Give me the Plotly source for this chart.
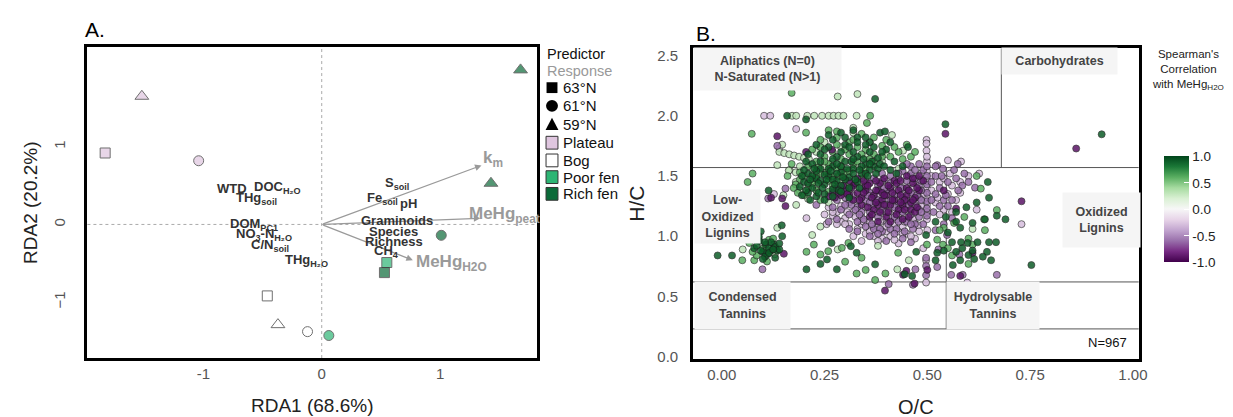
import plotly.graph_objects as go

FONT = "Liberation Sans, Arial, sans-serif"

# ---------------- Panel A data (RDA) ----------------
site_habitat = ["Plateau", "Plateau", "Plateau", "Bog", "Bog", "Bog",
                "Poor fen", "Poor fen", "Rich fen", "Rich fen", "Rich fen", "Rich fen"]
site_lat = ["63°N", "61°N", "59°N", "63°N", "61°N", "59°N",
            "63°N", "61°N", "63°N", "61°N", "59°N", "59°N"]
site_rda1 = [-1.83, -1.04, -1.52, -0.46, -0.12, -0.37, 0.55, 0.06, 0.53, 1.01, 1.43, 1.68]
site_rda2 = [0.92, 0.82, 1.65, -0.92, -1.38, -1.29, -0.49, -1.43, -0.62, -0.14, 0.53, 1.99]

habitat_names = ["Plateau", "Bog", "Poor fen", "Rich fen"]
habitat_colors = ["#dfc6df", "#ffffff", "#2db574", "#0b6a39"]
lat_names = ["63°N", "61°N", "59°N"]
lat_symbols = ["square", "circle", "triangle-up"]

response_labels = ["k<sub>m</sub>", "MeHg<sub>peat</sub>", "MeHg<sub>H2O</sub>"]
response_x = [1.35, 1.34, 0.77]
response_y = [0.76, 0.08, -0.46]
response_label_x = [1.35, 1.23, 0.78]
response_label_y = [0.84, 0.12, -0.50]

predictor_labels = ["S<sub>soil</sub>", "Fe<sub>soil</sub>", "pH", "Graminoids", "Species",
                    "Richness", "CH<sub>4</sub>", "WTD", "DOC<sub>H₂O</sub>", "THg<sub>soil</sub>",
                    "DOM<sub>PC1</sub>", "NO<sub>3</sub>-N<sub>H₂O</sub>", "C/N<sub>soil</sub>",
                    "THg<sub>H₂O</sub>"]
predictor_x = [0.64, 0.51, 0.73, 0.64, 0.61, 0.61, 0.55, -0.76, -0.37, -0.55, -0.57, -0.49, -0.44, -0.13]
predictor_y = [0.53, 0.33, 0.27, 0.05, -0.09, -0.22, -0.35, 0.46, 0.47, 0.33, 0.0, -0.13, -0.27, -0.47]

# ---------------- Panel B data (van Krevelen) ----------------
# (O/C, H/C) pairs, grouped by colour class; rho = Spearman correlation
light_purple_rho = -0.3
light_purple_pts = [
    (0.103, 2.0), (0.118, 2.0), (0.181, 1.89), (0.498, 1.80), (0.498, 1.77), (0.498, 1.71),
    (0.55, 1.63), (0.582, 1.62), (0.626, 1.52), (0.127, 1.35), (0.14, 1.73), (0.206, 1.15),
    (0.373, 1.31), (0.385, 1.285), (0.397, 1.26), (0.409, 1.235), (0.421, 1.21), (0.433, 1.185),
    (0.445, 1.16), (0.457, 1.135), (0.469, 1.11), (0.478, 1.09),
    (0.499, 1.14), (0.499, 1.20), (0.499, 1.26), (0.499, 1.32), (0.499, 1.40), (0.499, 1.46),
    (0.499, 1.54), (0.499, 1.62), (0.499, 1.66),
    (0.30, 1.15), (0.31, 1.10), (0.33, 1.06), (0.35, 1.02), (0.37, 1.00), (0.39, 0.98),
    (0.41, 1.00), (0.43, 1.04), (0.45, 1.02), (0.47, 0.98), (0.38, 1.08), (0.40, 1.12),
    (0.28, 1.20), (0.27, 1.17), (0.29, 1.25), (0.32, 1.20), (0.34, 1.16), (0.36, 1.12),
    (0.42, 1.10), (0.44, 1.08), (0.497, 0.615), (0.497, 0.80), (0.597, 0.615), (0.55, 1.35),
    (0.56, 1.42), (0.57, 1.30), (0.54, 1.22), (0.53, 1.45), (0.56, 1.20), (0.58, 1.36),
    (0.729, 1.10), (0.46, 1.44), (0.44, 1.36), (0.42, 1.42), (0.40, 1.30), (0.38, 1.20),
    (0.48, 1.28), (0.47, 1.36), (0.35, 1.24), (0.33, 1.30), (0.45, 1.24), (0.43, 1.30),
    (0.455, 1.50), (0.485, 1.52), (0.39, 1.14), (0.41, 1.18), (0.34, 1.10), (0.52, 1.28),
    (0.51, 1.38), (0.53, 1.18), (0.60, 1.50), (0.62, 1.22), (0.29, 1.12), (0.26, 1.24),
    (0.43, 0.94), (0.38, 0.96), (0.49, 0.90), (0.40, 1.04),
    (0.305, 1.20), (0.325, 1.16), (0.345, 1.12), (0.365, 1.08), (0.385, 1.12), (0.405, 1.16),
    (0.425, 1.14), (0.445, 1.12), (0.465, 1.14), (0.36, 1.04), (0.40, 1.08), (0.44, 1.02),
    (0.30, 1.10), (0.28, 1.10), (0.27, 1.20), (0.25, 1.18), (0.255, 1.10), (0.32, 1.00),
    (0.34, 0.96), (0.42, 0.97), (0.46, 1.00), (0.48, 1.04), (0.385, 1.34), (0.425, 1.38),
    (0.465, 1.40), (0.405, 1.46), (0.355, 1.38), (0.485, 1.25), (0.49, 1.35), (0.475, 1.46),
    (0.51, 1.50), (0.525, 1.32), (0.54, 1.48), (0.555, 1.52), (0.58, 1.45), (0.50, 1.05),
]
light_green_rho = 0.3
light_green_pts = [
    (0.171, 2.0), (0.181, 2.0), (0.208, 2.0), (0.225, 2.0), (0.244, 2.0), (0.26, 2.0),
    (0.272, 2.0), (0.284, 2.0), (0.296, 2.0), (0.328, 2.0), (0.282, 2.16), (0.33, 2.18),
    (0.32, 1.90), (0.32, 1.86), (0.414, 1.84), (0.441, 1.71), (0.147, 1.76), (0.14, 1.70),
    (0.152, 1.69), (0.164, 1.68), (0.176, 1.67), (0.188, 1.66), (0.20, 1.65), (0.212, 1.64),
    (0.165, 1.55), (0.18, 1.53), (0.19, 1.58), (0.25, 1.78), (0.29, 1.74), (0.35, 1.66),
    (0.39, 1.62), (0.43, 1.56), (0.135, 1.59), (0.163, 1.545), (0.051, 0.89), (0.129, 0.85),
    (0.135, 1.07), (0.181, 1.26), (0.15, 1.34), (0.22, 1.01), (0.24, 1.08), (0.282, 0.89),
    (0.427, 0.725), (0.23, 1.70), (0.27, 1.62), (0.33, 1.58), (0.26, 1.28), (0.21, 1.31),
    (0.19, 1.38), (0.36, 1.78), (0.40, 1.68), (0.18, 1.45), (0.22, 1.55), (0.61, 1.06),
    (0.455, 0.80), (0.38, 0.92), (0.25, 1.58), (0.29, 1.46), (0.31, 1.36), (0.23, 1.42),
]
purple_rho = -0.6
purple_pts = [
    (0.34, 1.40), (0.36, 1.36), (0.38, 1.42), (0.40, 1.38), (0.42, 1.34), (0.44, 1.40),
    (0.46, 1.36), (0.48, 1.42), (0.35, 1.30), (0.37, 1.26), (0.39, 1.22), (0.41, 1.30),
    (0.43, 1.26), (0.45, 1.30), (0.47, 1.26), (0.36, 1.20), (0.38, 1.16), (0.40, 1.20),
    (0.42, 1.16), (0.44, 1.20), (0.46, 1.18), (0.48, 1.22), (0.33, 1.24), (0.31, 1.28),
    (0.30, 1.32), (0.32, 1.34), (0.41, 1.44), (0.45, 1.46), (0.47, 1.48), (0.43, 1.48),
    (0.39, 1.46), (0.37, 1.48), (0.35, 1.46), (0.48, 1.32), (0.48, 1.16), (0.47, 1.10),
    (0.45, 1.12), (0.43, 1.12), (0.41, 1.06), (0.39, 1.04), (0.37, 1.06), (0.35, 1.08),
    (0.33, 1.12), (0.31, 1.18), (0.29, 1.22), (0.46, 1.52), (0.44, 1.54), (0.49, 1.55),
    (0.48, 1.60), (0.46, 1.58), (0.36, 1.00), (0.40, 0.96), (0.44, 0.98), (0.46, 0.95),
    (0.28, 1.30), (0.27, 1.24), (0.524, 1.59), (0.538, 1.56), (0.574, 1.60), (0.616, 1.403),
    (0.52, 1.50), (0.53, 1.40), (0.54, 1.30), (0.55, 1.25), (0.53, 1.25), (0.52, 1.35),
    (0.55, 1.45), (0.57, 1.48), (0.585, 1.42), (0.60, 1.45), (0.56, 1.15), (0.548, 1.01),
    (0.52, 1.05), (0.54, 1.10), (0.406, 0.602), (0.465, 0.596), (0.471, 0.725), (0.497, 0.676),
    (0.497, 0.753), (0.497, 0.82), (0.524, 0.744), (0.527, 0.89), (0.558, 0.679), (0.578, 0.848),
    (0.586, 0.679), (0.669, 0.679), (0.099, 0.725), (0.113, 1.313), (0.155, 1.395), (0.135, 1.75),
    (0.499, 1.17), (0.499, 1.23), (0.499, 1.29), (0.499, 1.36), (0.499, 1.43), (0.499, 1.50),
    (0.499, 1.58), (0.485, 1.46), (0.485, 1.38), (0.485, 1.30), (0.485, 1.20), (0.23, 1.26),
    (0.38, 1.30), (0.42, 1.24), (0.44, 1.32), (0.40, 1.26), (0.36, 1.28), (0.34, 1.20),
    (0.325, 1.22), (0.345, 1.14), (0.365, 1.10), (0.385, 1.06), (0.405, 1.10), (0.425, 1.06),
    (0.445, 1.04), (0.465, 1.06), (0.315, 1.26), (0.30, 1.26), (0.335, 1.18), (0.355, 1.34),
    (0.395, 1.40), (0.435, 1.40), (0.475, 1.34), (0.455, 1.26), (0.41, 1.50), (0.43, 1.52),
    (0.39, 1.52), (0.47, 1.55), (0.45, 1.60), (0.51, 1.45), (0.51, 1.30), (0.515, 1.20),
    (0.52, 1.58), (0.535, 1.50), (0.545, 1.34), (0.56, 1.30), (0.575, 1.38), (0.59, 1.52),
    (0.565, 1.55), (0.49, 1.10), (0.46, 1.10), (0.42, 1.02), (0.38, 1.02), (0.33, 1.04),
    (0.31, 1.06), (0.28, 1.14), (0.26, 1.12),
]
med_green_rho = 0.6
med_green_pts = [
    (0.17, 2.19), (0.361, 2.0), (0.073, 1.85), (0.205, 1.86), (0.26, 1.88), (0.28, 1.87),
    (0.353, 1.94), (0.063, 1.45), (0.075, 1.52), (0.05, 0.80), (0.067, 0.944), (0.079, 0.80),
    (0.101, 0.90), (0.115, 0.97), (0.11, 0.79), (0.09, 0.985), (0.206, 0.87), (0.224, 0.93),
    (0.24, 0.848), (0.259, 0.876), (0.292, 0.903), (0.30, 0.788), (0.308, 0.944), (0.34, 0.821),
    (0.35, 0.72), (0.328, 0.69), (0.373, 0.636), (0.398, 0.69), (0.429, 0.862), (0.499, 0.93),
    (0.524, 0.971), (0.538, 0.93), (0.61, 0.93), (0.669, 1.217), (0.63, 1.395), (0.638, 1.14),
    (0.62, 1.50), (0.20, 1.50), (0.22, 1.44), (0.24, 1.52), (0.26, 1.46), (0.28, 1.56),
    (0.30, 1.53), (0.32, 1.60), (0.21, 1.58), (0.23, 1.62), (0.25, 1.66), (0.27, 1.70),
    (0.29, 1.64), (0.31, 1.68), (0.33, 1.74), (0.35, 1.72), (0.37, 1.68), (0.39, 1.75),
    (0.19, 1.47), (0.23, 1.38), (0.27, 1.42), (0.31, 1.44), (0.34, 1.48), (0.36, 1.64),
    (0.22, 1.72), (0.24, 1.80), (0.28, 1.82), (0.31, 1.78), (0.34, 1.85), (0.41, 1.66),
    (0.43, 1.70), (0.46, 1.66), (0.20, 1.34), (0.24, 1.30), (0.26, 1.37), (0.18, 1.43),
    (0.54, 1.07), (0.565, 1.11), (0.59, 1.16), (0.55, 0.90), (0.60, 0.98), (0.64, 1.05),
    (0.26, 1.60), (0.30, 1.40), (0.22, 1.48), (0.255, 1.53), (0.285, 1.50), (0.235, 1.57),
    (0.19, 1.53), (0.21, 1.40), (0.23, 1.50), (0.25, 1.62), (0.27, 1.50), (0.29, 1.58),
    (0.31, 1.54), (0.33, 1.62), (0.35, 1.56), (0.37, 1.62), (0.39, 1.66), (0.42, 1.74),
    (0.44, 1.64), (0.45, 1.76), (0.47, 1.70), (0.24, 1.74), (0.28, 1.76), (0.32, 1.80),
    (0.37, 1.82), (0.40, 1.80), (0.17, 1.60), (0.16, 1.50), (0.175, 1.40), (0.185, 1.36),
    (0.30, 1.72), (0.34, 1.68), (0.085, 0.84), (0.125, 0.98), (0.075, 0.87), (0.56, 0.84),
    (0.60, 0.77), (0.53, 1.05),
]
dark_purple_rho = -0.9
dark_purple_pts = [
    (0.135, 1.83), (0.205, 1.70), (0.268, 1.717), (0.544, 1.85), (0.862, 1.728), (0.729, 1.29),
    (0.397, 0.548), (0.441, 0.679), (0.449, 0.712), (0.469, 0.607), (0.151, 0.854), (0.147, 1.313),
    (0.35, 1.38), (0.37, 1.34), (0.39, 1.30), (0.41, 1.26), (0.43, 1.22), (0.36, 1.44),
    (0.38, 1.38), (0.40, 1.34), (0.42, 1.30), (0.44, 1.26), (0.46, 1.22), (0.33, 1.36),
    (0.34, 1.32), (0.32, 1.42), (0.30, 1.38), (0.31, 1.46), (0.29, 1.34), (0.33, 1.48),
    (0.39, 1.36), (0.45, 1.34), (0.47, 1.32), (0.43, 1.38), (0.41, 1.40), (0.37, 1.22),
    (0.40, 1.16), (0.44, 1.14), (0.38, 1.12), (0.36, 1.16), (0.34, 1.26), (0.32, 1.30),
    (0.47, 1.20), (0.45, 1.40), (0.48, 1.38), (0.49, 1.46), (0.28, 1.40), (0.27, 1.36),
    (0.26, 1.33), (0.42, 1.46), (0.46, 1.28), (0.38, 1.26), (0.35, 1.42), (0.31, 1.34),
    (0.45, 1.50), (0.41, 1.12), (0.54, 1.38), (0.57, 1.23), (0.61, 0.86), (0.50, 0.72),
    (0.155, 1.25), (0.12, 1.32), (0.58, 0.67),
    (0.335, 1.30), (0.345, 1.36), (0.355, 1.42), (0.365, 1.32), (0.375, 1.38), (0.385, 1.44),
    (0.395, 1.34), (0.405, 1.42), (0.415, 1.36), (0.425, 1.44), (0.435, 1.34), (0.445, 1.30),
    (0.455, 1.38), (0.465, 1.44), (0.475, 1.40), (0.355, 1.24), (0.365, 1.18), (0.375, 1.28),
    (0.385, 1.20), (0.395, 1.26), (0.405, 1.20), (0.415, 1.30), (0.425, 1.18), (0.435, 1.28),
    (0.445, 1.22), (0.455, 1.16), (0.465, 1.30), (0.475, 1.24), (0.315, 1.40), (0.325, 1.44),
    (0.305, 1.35), (0.295, 1.42), (0.285, 1.36), (0.275, 1.32), (0.345, 1.46), (0.375, 1.46),
    (0.395, 1.48), (0.435, 1.46), (0.465, 1.48), (0.48, 1.50),
]
dark_green_rho = 0.9
dark_green_pts = [
    (-0.01, 0.84), (0.025, 0.84), (0.079, 0.90), (0.095, 1.04), (0.091, 0.96), (0.107, 0.93),
    (0.111, 0.85), (0.119, 0.88), (0.127, 0.93), (0.135, 0.88), (0.10, 0.87), (0.115, 0.90),
    (0.12, 0.95), (0.13, 0.91), (0.14, 0.89), (0.105, 0.83), (0.147, 1.00), (0.114, 1.38),
    (0.146, 1.09), (0.159, 2.0), (0.205, 1.97), (0.373, 2.14), (0.544, 1.93), (0.385, 1.86),
    (0.397, 1.87), (0.453, 1.74), (0.924, 1.846), (0.753, 0.76), (0.69, 1.14), (0.669, 1.17),
    (0.647, 1.45), (0.57, 0.87), (0.582, 0.95), (0.598, 0.944), (0.622, 0.95), (0.60, 0.843),
    (0.614, 0.81), (0.65, 0.95), (0.645, 0.87), (0.667, 0.95), (0.524, 0.862), (0.562, 0.76),
    (0.497, 1.01), (0.473, 0.87), (0.52, 1.12), (0.545, 1.16), (0.57, 1.20), (0.595, 1.24),
    (0.62, 1.28), (0.65, 1.32), (0.55, 1.03), (0.58, 1.07), (0.61, 1.11), (0.64, 1.14),
    (0.206, 0.725), (0.24, 0.77), (0.256, 0.807), (0.267, 0.944), (0.28, 0.725), (0.314, 0.917),
    (0.328, 0.862), (0.373, 0.766), (0.445, 0.685), (0.463, 0.67), (0.20, 1.45), (0.21, 1.52),
    (0.22, 1.40), (0.23, 1.48), (0.24, 1.56), (0.25, 1.43), (0.26, 1.50), (0.27, 1.58),
    (0.28, 1.46), (0.29, 1.53), (0.30, 1.62), (0.31, 1.49), (0.32, 1.56), (0.33, 1.66),
    (0.34, 1.52), (0.35, 1.60), (0.36, 1.70), (0.37, 1.58), (0.22, 1.60), (0.24, 1.68),
    (0.26, 1.74), (0.28, 1.66), (0.30, 1.76), (0.32, 1.70), (0.25, 1.35), (0.27, 1.39),
    (0.29, 1.42), (0.31, 1.40), (0.33, 1.45), (0.21, 1.36), (0.23, 1.33), (0.19, 1.41),
    (0.20, 1.55), (0.22, 1.50), (0.24, 1.46), (0.26, 1.56), (0.28, 1.52), (0.30, 1.47),
    (0.32, 1.52), (0.34, 1.58), (0.36, 1.55), (0.38, 1.65), (0.40, 1.72), (0.42, 1.62),
    (0.44, 1.58), (0.27, 1.80), (0.29, 1.86), (0.33, 1.82), (0.36, 1.78), (0.21, 1.44),
    (0.25, 1.51), (0.29, 1.58), (0.35, 1.52), (0.38, 1.56), (0.23, 1.54), (0.27, 1.47),
    (0.195, 1.50), (0.205, 1.38), (0.215, 1.47), (0.225, 1.56), (0.235, 1.44), (0.245, 1.40),
    (0.255, 1.47), (0.265, 1.54), (0.275, 1.43), (0.285, 1.38), (0.295, 1.49), (0.305, 1.56),
    (0.315, 1.62), (0.325, 1.47), (0.335, 1.55), (0.345, 1.64), (0.355, 1.50), (0.365, 1.62),
    (0.375, 1.52), (0.385, 1.60), (0.395, 1.58), (0.41, 1.55), (0.425, 1.52), (0.21, 1.68),
    (0.23, 1.76), (0.25, 1.72), (0.27, 1.64), (0.29, 1.70), (0.31, 1.74), (0.33, 1.78),
    (0.35, 1.76), (0.37, 1.74), (0.39, 1.70), (0.41, 1.78), (0.26, 1.84), (0.30, 1.82),
    (0.32, 1.88), (0.35, 1.82), (0.205, 1.62), (0.24, 1.62), (0.28, 1.60), (0.32, 1.64),
    (0.36, 1.60), (0.195, 1.34), (0.215, 1.30), (0.235, 1.36), (0.27, 1.33), (0.29, 1.37),
    (0.31, 1.32), (0.335, 1.40), (0.25, 1.30),
    (0.085, 0.92), (0.095, 0.88), (0.105, 0.95), (0.115, 0.86), (0.125, 0.89), (0.10, 0.81),
    (0.13, 0.82), (0.14, 0.94), (0.09, 1.0), (0.56, 0.95), (0.585, 0.90), (0.61, 0.88),
    (0.635, 0.83), (0.655, 0.80), (0.54, 0.88), (0.58, 0.80), (0.52, 0.80), (0.57, 1.12),
]

region_labels = ["Aliphatics (N=0)<br>N-Saturated (N>1)", "Carbohydrates", "Low-<br>Oxidized<br>Lignins",
                 "Oxidized<br>Lignins", "Condensed<br>Tannins", "Hydrolysable<br>Tannins"]
region_x = [0.112, 0.822, 0.013, 0.924, 0.0495, 0.659]
region_y = [2.389, 2.455, 1.164, 1.135, 0.426, 0.426]
region_w = [147, 115, 65, 77, 95, 92]
region_h = [42, 26, 53, 54, 47, 47]
boundary_hc = [1.57, 0.62, 0.23]
boundary_oc_upper = 0.68
boundary_oc_lower = 0.546
n_formulas = 967

# ---------------- Layout geometry ----------------
W, H = 1233, 417
def px(x):
    return x / W
def py(y):
    return 1 - y / H

fig = go.Figure()

# Panel A site points
for hname, hcol in zip(habitat_names, habitat_colors):
    xs = [x for x, h in zip(site_rda1, site_habitat) if h == hname]
    ys = [y for y, h in zip(site_rda2, site_habitat) if h == hname]
    syms = [lat_symbols[lat_names.index(l)] for l, h in zip(site_lat, site_habitat) if h == hname]
    sizes = [12 if s == "triangle-up" else 10 for s in syms]
    fig.add_trace(go.Scatter(x=xs, y=ys, mode="markers", xaxis="x", yaxis="y", name=hname,
                             marker=dict(symbol=syms, size=sizes, color=hcol,
                                         line=dict(color="#333333", width=1)),
                             showlegend=False, hoverinfo="skip"))

# Panel B points
groups = [(light_purple_pts, light_purple_rho), (light_green_pts, light_green_rho),
          (purple_pts, purple_rho), (med_green_pts, med_green_rho),
          (dark_purple_pts, dark_purple_rho), (dark_green_pts, dark_green_rho)]
for pts, rho in groups:
    fig.add_trace(go.Scatter(
        x=[p[0] for p in pts], y=[p[1] for p in pts], mode="markers", xaxis="x2", yaxis="y2",
        marker=dict(size=7, color=[rho] * len(pts), coloraxis="coloraxis", opacity=0.85,
                    line=dict(color="#1a1a1a", width=0.7)),
        showlegend=False, hoverinfo="skip"))

annotations = []
shapes = []

# ---- custom legend for panel A (Predictor / Response key) ----
leg_x_sym = 548
leg_x_txt = 557
leg_rows_y = [80, 98.5, 117, 136, 154, 171, 188]
leg_items = lat_names + habitat_names
annotations.append(dict(xref="paper", yref="paper", x=px(541), y=py(46), text="Predictor", showarrow=False,
                        xanchor="left", yanchor="middle", font=dict(family=FONT, size=14.5, color="#111111")))
annotations.append(dict(xref="paper", yref="paper", x=px(541), y=py(63), text="Response", showarrow=False,
                        xanchor="left", yanchor="middle", font=dict(family=FONT, size=14.5, color="#999999")))
for i, (item, ry) in enumerate(zip(leg_items, leg_rows_y)):
    annotations.append(dict(xref="paper", yref="paper", x=px(leg_x_txt), y=py(ry), text=item, showarrow=False,
                            xanchor="left", yanchor="middle", font=dict(family=FONT, size=15, color="#111111")))
    if i < 3:
        sym = lat_symbols[i]
        if sym == "square":
            shapes.append(dict(type="rect", xref="paper", yref="paper", x0=px(leg_x_sym - 5.5), x1=px(leg_x_sym + 5.5),
                               y0=py(ry + 5.5), y1=py(ry - 5.5), fillcolor="black", line=dict(width=0)))
        elif sym == "circle":
            shapes.append(dict(type="circle", xref="paper", yref="paper", x0=px(leg_x_sym - 6), x1=px(leg_x_sym + 6),
                               y0=py(ry + 6), y1=py(ry - 6), fillcolor="black", line=dict(width=0)))
        else:
            path = "M %f %f L %f %f L %f %f Z" % (px(leg_x_sym - 6.5), py(ry + 6), px(leg_x_sym + 6.5), py(ry + 6),
                                                 px(leg_x_sym), py(ry - 6.5))
            shapes.append(dict(type="path", xref="paper", yref="paper", path=path, fillcolor="black",
                               line=dict(width=0)))
    else:
        col = habitat_colors[i - 3]
        shapes.append(dict(type="rect", xref="paper", yref="paper", x0=px(leg_x_sym - 6), x1=px(leg_x_sym + 6),
                           y0=py(ry + 6.5), y1=py(ry - 6.5), fillcolor=col, line=dict(color="#333333", width=1)))

# Panel A zero lines
shapes.append(dict(type="line", xref="x", yref="y domain", x0=0, x1=0, y0=0, y1=1,
                   line=dict(color="#aaaaaa", width=1, dash="dot"), layer="below"))
shapes.append(dict(type="line", xref="x domain", yref="y", x0=0, x1=1, y0=0, y1=0,
                   line=dict(color="#aaaaaa", width=1, dash="dot"), layer="below"))

# Response arrows
for lab, x, y, lx, ly in zip(response_labels, response_x, response_y, response_label_x, response_label_y):
    annotations.append(dict(xref="x", yref="y", x=x, y=y, ax=0, ay=0, axref="x", ayref="y",
                            showarrow=True, arrowhead=2, arrowsize=1, arrowwidth=1.3,
                            arrowcolor="#9a9a9a", text=""))
    annotations.append(dict(xref="x", yref="y", x=lx, y=ly, text="<b>" + lab + "</b>",
                            showarrow=False, xanchor="left", yanchor="middle",
                            font=dict(family=FONT, size=17, color="#9a9a9a")))
for lab, x, y in zip(predictor_labels, predictor_x, predictor_y):
    annotations.append(dict(xref="x", yref="y", x=x, y=y, text="<b>" + lab + "</b>",
                            showarrow=False, xanchor="center", yanchor="middle",
                            font=dict(family=FONT, size=13, color="#333333")))

# Panel B boundaries
for hc in boundary_hc:
    shapes.append(dict(type="line", xref="x2 domain", yref="y2", x0=0, x1=1, y0=hc, y1=hc,
                       line=dict(color="#555555", width=1), layer="below"))
shapes.append(dict(type="line", xref="x2", yref="y2 domain", x0=boundary_oc_upper, x1=boundary_oc_upper,
                   y0=(boundary_hc[0] + 0.02) / 2.58, y1=1, line=dict(color="#555555", width=1), layer="below"))
shapes.append(dict(type="line", xref="x2", yref="y2", x0=boundary_oc_lower, x1=boundary_oc_lower,
                   y0=boundary_hc[2], y1=boundary_hc[0], line=dict(color="#555555", width=1), layer="below"))

for lab, x, y, w, h in zip(region_labels, region_x, region_y, region_w, region_h):
    annotations.append(dict(xref="x2", yref="y2", x=x, y=y, text="<b>" + lab + "</b>",
                            showarrow=False, width=w, height=h, bgcolor="#f5f5f5",
                            xanchor="center", yanchor="middle", align="center", valign="middle",
                            borderpad=0, font=dict(family=FONT, size=12.5, color="#444444")))
annotations.append(dict(xref="x2", yref="y2", x=0.937, y=0.119, text="N=%d" % n_formulas,
                        showarrow=False, font=dict(family=FONT, size=13, color="#111111")))

# Panel titles
annotations.append(dict(xref="paper", yref="paper", x=px(76), y=py(21), text="A.", showarrow=False,
                        xanchor="left", yanchor="middle", font=dict(family=FONT, size=21, color="black")))
annotations.append(dict(xref="paper", yref="paper", x=px(691), y=py(25), text="B.", showarrow=False,
                        xanchor="left", yanchor="middle", font=dict(family=FONT, size=21, color="black")))
# Colorbar title
annotations.append(dict(xref="paper", yref="paper", x=px(1189), y=py(62),
                        text="Spearman's<br>Correlation<br>with MeHg<sub>H2O</sub>", showarrow=False,
                        xanchor="center", yanchor="middle", align="center",
                        font=dict(family=FONT, size=11.5, color="#222222")))

tickfont = dict(family=FONT, size=15, color="#555555")
fig.update_layout(
    width=W, height=H, margin=dict(l=0, r=0, t=0, b=0),
    paper_bgcolor="white", plot_bgcolor="white",
    font=dict(family=FONT), showlegend=False,
    xaxis=dict(domain=[px(80), px(533)], range=[-1.98, 1.82], tickvals=[-1, 0, 1], ticktext=["-1", "0", "1"],
               anchor="y", showgrid=False, zeroline=False, showline=True, mirror=True, linecolor="black",
               linewidth=2.5, ticks="", tickfont=tickfont, ticklabelstandoff=0,
               title=dict(text="RDA1 (68.6%)", font=dict(family=FONT, size=19, color="#222222"), standoff=18)),
    yaxis=dict(domain=[py(355), py(39)], range=[-1.72, 2.28], tickvals=[-1, 0, 1], ticktext=["−1", "0", "1"],
               anchor="x", tickangle=-90, showgrid=False, zeroline=False, showline=True, mirror=True,
               linecolor="black", linewidth=2.5, ticks="", tickfont=tickfont, ticklabelstandoff=14,
               title=dict(text="RDA2 (20.2%)", font=dict(family=FONT, size=19, color="#222222"), standoff=9)),
    xaxis2=dict(domain=[px(690), px(1139)], range=[-0.07, 1.014], tickvals=[0, 0.25, 0.5, 0.75, 1.0],
                anchor="y2", tickformat=".2f", showgrid=False, zeroline=False, showline=True, mirror=True,
                linecolor="black", linewidth=2.5, ticks="", tickfont=tickfont, ticklabelstandoff=0,
                title=dict(text="O/C", font=dict(family=FONT, size=20, color="#222222"), standoff=19)),
    yaxis2=dict(domain=[py(356), py(40)], range=[-0.02, 2.56], tickvals=[0, 0.5, 1.0, 1.5, 2.0, 2.5],
                anchor="x2", tickformat=".1f", showgrid=False, zeroline=False, showline=True, mirror=True,
                linecolor="black", linewidth=2.5, ticks="", tickfont=tickfont, ticklabelstandoff=9,
                title=dict(text="H/C", font=dict(family=FONT, size=21, color="#222222"), standoff=8)),
    coloraxis=dict(colorscale="PRGn", cmin=-1, cmax=1,
                   colorbar=dict(x=px(1165), xanchor="left", y=py(150), yanchor="top",
                                 lenmode="pixels", len=106, thickness=25, outlinewidth=0,
                                 tickvals=[-1, -0.5, 0, 0.5, 1], ticktext=["-1.0", "-0.5", "0.0", "0.5", "1.0"],
                                 ticks="inside", ticklen=5, tickcolor="white",
                                 tickfont=dict(family=FONT, size=13.5, color="#222222"), xpad=0, ypad=0)),
    annotations=annotations, shapes=shapes,
)

fig.write_html("out.html")
